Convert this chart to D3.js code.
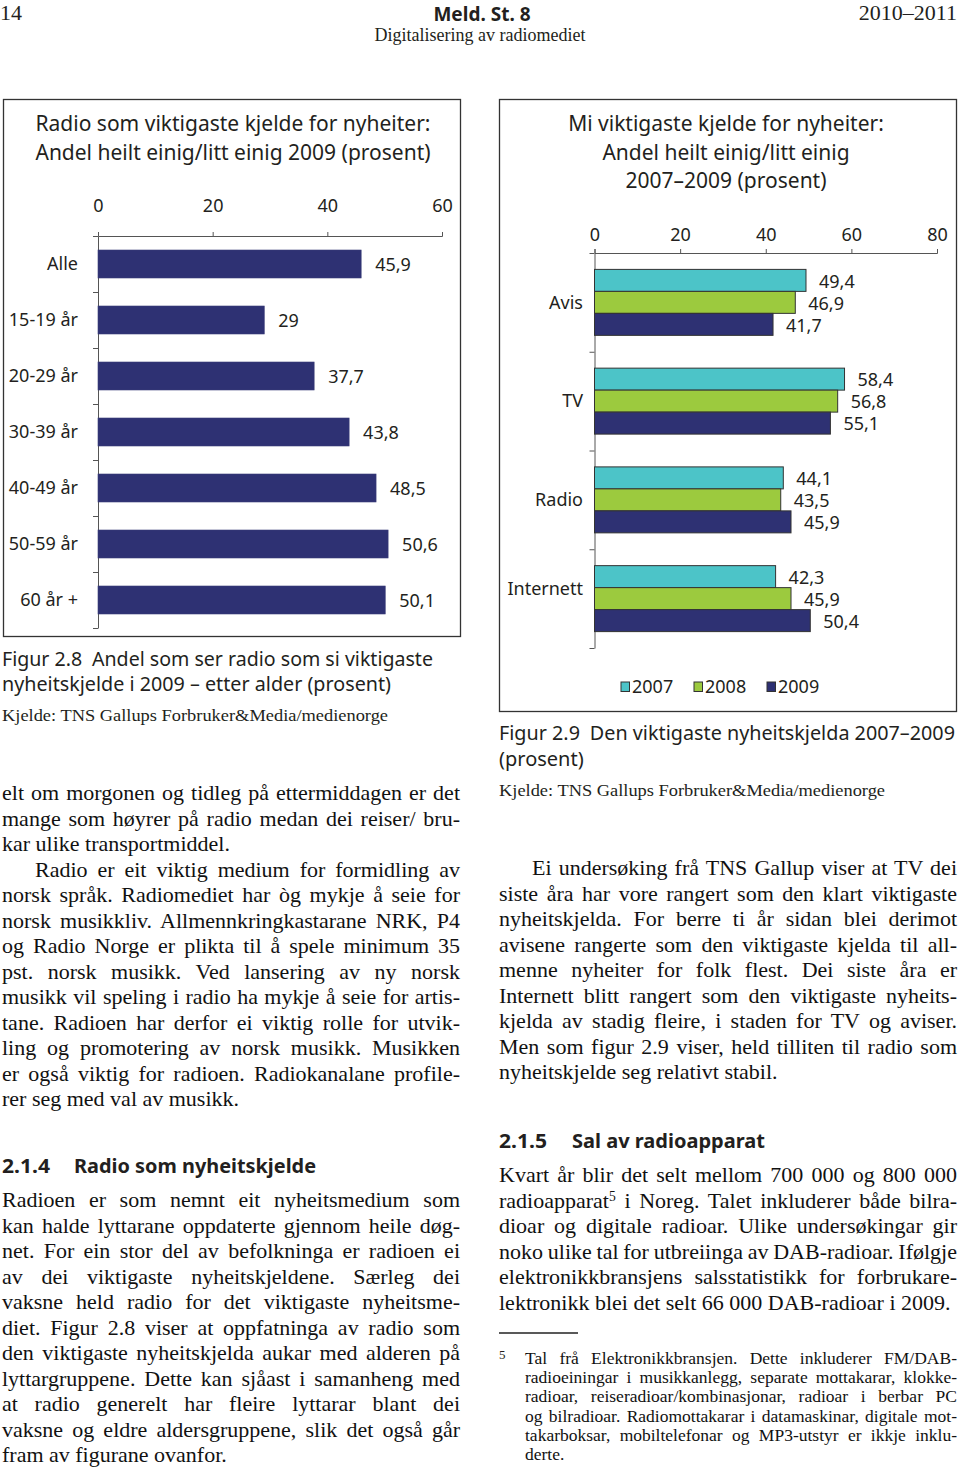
<!DOCTYPE html>
<html><head><meta charset="utf-8">
<script src="https://cdn.jsdelivr.net/npm/d3@7"></script>
<style>body{margin:0;background:#fff}svg{display:block}</style>
</head><body>
<script>
// ---------------- DATA ----------------
const ageCats = ["Alle","15-19 år","20-29 år","30-39 år","40-49 år","50-59 år","60 år +"];
const ageValues = [45.9, 29, 37.7, 43.8, 48.5, 50.6, 50.1];
const ageTicks = [0, 20, 40, 60];

const mediaCats = ["Avis","TV","Radio","Internett"];
const years = ["2007","2008","2009"];
const values2007 = [49.4, 58.4, 44.1, 42.3];
const values2008 = [46.9, 56.8, 43.5, 45.9];
const values2009 = [41.7, 55.1, 45.9, 50.4];
const mediaTicks = [0, 20, 40, 60, 80];

// ---------------- TEXT ----------------
const leftTitle = ["Radio som viktigaste kjelde for nyheiter:", "Andel heilt einig/litt einig 2009 (prosent)"];
const rightTitle = ["Mi viktigaste kjelde for nyheiter:", "Andel heilt einig/litt einig", "2007\u20132009 (prosent)"];

const paraA = ["elt om morgonen og tidleg på ettermiddagen er det",
  "mange som høyrer på radio medan dei reiser/ bru-",
  "kar ulike transportmiddel."];
const paraB = ["Radio er eit viktig medium for formidling av",
  "norsk språk. Radiomediet har òg mykje å seie for",
  "norsk musikkliv. Allmennkringkastarane NRK, P4",
  "og Radio Norge er plikta til å spele minimum 35",
  "pst. norsk musikk. Ved lansering av ny norsk",
  "musikk vil speling i radio ha mykje å seie for artis-",
  "tane. Radioen har derfor ei viktig rolle for utvik-",
  "ling og promotering av norsk musikk. Musikken",
  "er også viktig for radioen. Radiokanalane profile-",
  "rer seg med val av musikk."];
const paraC = ["Radioen er som nemnt eit nyheitsmedium som",
  "kan halde lyttarane oppdaterte gjennom heile døg-",
  "net. For ein stor del av befolkninga er radioen ei",
  "av dei viktigaste nyheitskjeldene. Særleg dei",
  "vaksne held radio for det viktigaste nyheitsme-",
  "diet. Figur 2.8 viser at oppfatninga av radio som",
  "den viktigaste nyheitskjelda aukar med alderen på",
  "lyttargruppene. Dette kan sjåast i samanheng med",
  "at radio generelt har fleire lyttarar blant dei",
  "vaksne og eldre aldersgruppene, slik det også går",
  "fram av figurane ovanfor."];
const paraD = ["Ei undersøking frå TNS Gallup viser at TV dei",
  "siste åra har vore rangert som den klart viktigaste",
  "nyheitskjelda. For berre ti år sidan blei derimot",
  "avisene rangerte som den viktigaste kjelda til all-",
  "menne nyheiter for folk flest. Dei siste åra er",
  "Internett blitt rangert som den viktigaste nyheits-",
  "kjelda av stadig fleire, i staden for TV og aviser.",
  "Men som figur 2.9 viser, held tilliten til radio som",
  "nyheitskjelde seg relativt stabil."];
const paraE = ["Kvart år blir det selt mellom 700 000 og 800 000",
  "radioapparat^5 i Noreg. Talet inkluderer både bilra-",
  "dioar og digitale radioar. Ulike undersøkingar gir",
  "noko ulike tal for utbreiinga av DAB-radioar. Ifølgje",
  "elektronikkbransjens salsstatistikk for forbrukare-",
  "lektronikk blei det selt 66 000 DAB-radioar i 2009."];
const footnote = ["Tal frå Elektronikkbransjen. Dette inkluderer FM/DAB-",
  "radioeiningar i musikkanlegg, separate mottakarar, klokke-",
  "radioar, reiseradioar/kombinasjonar, radioar i berbar PC",
  "og bilradioar. Radiomottakarar i datamaskinar, digitale mot-",
  "takarboksar, mobiltelefonar og MP3-utstyr er ikkje inklu-",
  "derte."];

// ---------------- SETUP ----------------
const SANS = "'Noto Sans','Open Sans',sans-serif";
const SERIF = "'Liberation Serif','Times New Roman',serif";
const INK = "#231f20";
const NAVY = "#2e3173", CYAN = "#4cc4c8", GREEN = "#9cca3e";
const yearColors = d3.scaleOrdinal().domain(years).range([CYAN, GREEN, NAVY]);

const svg = d3.select("body").append("svg").attr("width", 960).attr("height", 1469);

function txt(parent, str, x, y, o = {}) {
  const t = parent.append("text").attr("x", x).attr("y", y)
    .attr("font-family", o.family || SANS).attr("font-size", o.size || 18)
    .attr("font-weight", o.weight || "normal").attr("fill", o.fill || INK)
    .attr("text-anchor", o.anchor || "start").style("white-space", "pre");
  if (o.dy) t.attr("dy", o.dy);
  const parts = str.split(/\^(\d)/);
  parts.forEach((p, i) => {
    if (i % 2 === 1) t.append("tspan").attr("baseline-shift", "super").attr("font-size", (o.size || 18) * 0.62).text(p);
    else if (p.length) t.append("tspan").text(p);
  });
  if (o.fit) {
    const len = t.node().getComputedTextLength();
    if (Math.abs(len - o.fit) > 1) t.attr("textLength", o.fit).attr("lengthAdjust", "spacingAndGlyphs");
  }
  return t;
}
function justify(parent, str, x, y, w, o) {
  const t = txt(parent, str, x, y, o);
  const len = t.node().getComputedTextLength();
  const n = (str.match(/ /g) || []).length;
  if (n > 0) t.style("word-spacing", ((w - len) / n) + "px");
  return t;
}
function paragraph(lines, x, y0, w, step, o) {
  const g = svg.append("g");
  lines.forEach((l, i) => {
    const ind = (i === 0 && o.indent) ? o.indent : 0;
    const y = y0 + i * step;
    const last = i === lines.length - 1;
    if (last && !o.justifyLast) txt(g, l, x + ind, y, o);
    else justify(g, l, x + ind, y, w - ind, o);
  });
}

// ---------------- HEADER ----------------
txt(svg, "14", 0, 20, {family: SERIF, size: 22});
txt(svg, "Meld. St. 8", 482, 21, {weight: "bold", size: 19, anchor: "middle", fit: 98});
txt(svg, "2010\u20132011", 957, 20, {family: SERIF, size: 22, anchor: "end"});
txt(svg, "Digitalisering av radiomediet", 480, 41, {family: SERIF, size: 18, anchor: "middle"});

// ---------------- LEFT CHART ----------------
const gL = svg.append("g");
gL.append("rect").attr("x", 3.5).attr("y", 99.5).attr("width", 457).attr("height", 537)
  .attr("fill", "none").attr("stroke", "#333").attr("stroke-width", 1.3);
leftTitle.forEach((s, i) => txt(gL, s, 233, 131 + i * 28.5, {size: 21, anchor: "middle"}));

const xL = d3.scaleLinear().domain([0, 60]).range([98, 442]);
const yL = d3.scaleBand().domain(ageCats).range([236, 628]).paddingInner(0.5).paddingOuter(0.25);
const yLi = d3.scaleLinear().domain([0, ageCats.length]).range([236, 628]);

const axTopL = gL.append("g").attr("transform", "translate(0,236)")
  .call(d3.axisTop(xL).tickValues(ageTicks).tickSizeInner(4).tickSizeOuter(4).tickPadding(20));
const axLeftL = gL.append("g").attr("transform", "translate(98,0)")
  .call(d3.axisLeft(yLi).tickValues(d3.range(ageCats.length + 1)).tickFormat("").tickSize(5).tickSizeOuter(0));
[axTopL, axLeftL].forEach(a => {
  a.selectAll("path,line").attr("stroke", "#555").attr("stroke-width", 1);
  a.selectAll("text").attr("font-family", SANS).attr("font-size", 18).attr("fill", INK);
});

gL.selectAll("rect.bar").data(ageCats).join("rect").attr("class", "bar")
  .attr("x", xL(0)).attr("y", d => yL(d))
  .attr("width", (d, i) => xL(ageValues[i]) - xL(0)).attr("height", yL.bandwidth())
  .attr("fill", NAVY).attr("stroke", "#3a3d78").attr("stroke-width", 0.6);
gL.selectAll("text.cat").data(ageCats).join("text").attr("class", "cat")
  .attr("x", 78).attr("y", d => yL(d) + yL.bandwidth() / 2).attr("dy", "0.35em")
  .attr("text-anchor", "end").attr("font-family", SANS).attr("font-size", 18).attr("fill", INK).text(d => d);
gL.selectAll("text.val").data(ageCats).join("text").attr("class", "val")
  .attr("x", (d, i) => xL(ageValues[i]) + 14).attr("y", d => yL(d) + yL.bandwidth() / 2).attr("dy", "0.4em")
  .attr("font-family", SANS).attr("font-size", 18).attr("fill", INK)
  .text((d, i) => String(ageValues[i]).replace(".", ","));

// ---------------- RIGHT CHART ----------------
const gR = svg.append("g");
gR.append("rect").attr("x", 499.5).attr("y", 99.5).attr("width", 457).attr("height", 612)
  .attr("fill", "none").attr("stroke", "#333").attr("stroke-width", 1.3);
rightTitle.forEach((s, i) => txt(gR, s, 726, 131 + i * 28.5, {size: 21, anchor: "middle"}));

const xR = d3.scaleLinear().domain([0, 80]).range([594.5, 937]);
const yR = d3.scaleBand().domain(mediaCats).range([253, 648]).paddingInner(0.332).paddingOuter(0.166);
const yRi = d3.scaleLinear().domain([0, mediaCats.length]).range([253, 648]);
const yYear = d3.scaleBand().domain(years).range([0, yR.bandwidth()]);
const seriesByYear = {"2007": values2007, "2008": values2008, "2009": values2009};

const axTopR = gR.append("g").attr("transform", "translate(0,253)")
  .call(d3.axisTop(xR).tickValues(mediaTicks).tickSizeInner(4).tickSizeOuter(4).tickPadding(8));
const axLeftR = gR.append("g").attr("transform", "translate(594.5,0)")
  .call(d3.axisLeft(yRi).tickValues(d3.range(mediaCats.length + 1)).tickFormat("").tickSize(5).tickSizeOuter(0));
[axTopR, axLeftR].forEach(a => {
  a.selectAll("path,line").attr("stroke", "#555").attr("stroke-width", 1);
  a.selectAll("text").attr("font-family", SANS).attr("font-size", 18).attr("fill", INK);
});

const grp = gR.selectAll("g.grp").data(mediaCats).join("g").attr("class", "grp")
  .attr("transform", d => `translate(0,${yR(d)})`);
grp.selectAll("rect").data((d, i) => years.map(y => ({y, v: seriesByYear[y][i]}))).join("rect")
  .attr("x", xR(0)).attr("y", d => yYear(d.y)).attr("width", d => xR(d.v) - xR(0)).attr("height", yYear.bandwidth())
  .attr("fill", d => yearColors(d.y)).attr("stroke", "#333").attr("stroke-width", 1);
grp.selectAll("text.val").data((d, i) => years.map(y => ({y, v: seriesByYear[y][i]}))).join("text").attr("class", "val")
  .attr("x", d => xR(d.v) + 13).attr("y", d => yYear(d.y) + yYear.bandwidth() / 2).attr("dy", "0.4em")
  .attr("font-family", SANS).attr("font-size", 18).attr("fill", INK).text(d => String(d.v).replace(".", ","));
gR.selectAll("text.cat").data(mediaCats).join("text").attr("class", "cat")
  .attr("x", 583).attr("y", d => yR(d) + yR.bandwidth() / 2)
  .attr("dy", d => d === "Internett" ? "-0.2em" : "0.35em")
  .attr("text-anchor", "end").attr("font-family", SANS).attr("font-size", 18).attr("fill", INK).text(d => d);

const leg = gR.selectAll("g.leg").data(years).join("g").attr("class", "leg")
  .attr("transform", (d, i) => `translate(${621 + i * 73},682)`);
leg.append("rect").attr("width", 8.5).attr("height", 9.5).attr("fill", d => yearColors(d)).attr("stroke", "#333").attr("stroke-width", 1);
leg.append("text").attr("x", 11).attr("y", 11).attr("font-family", SANS).attr("font-size", 18).attr("fill", INK).text(d => d);

// ---------------- CAPTIONS ----------------
txt(svg, "Figur 2.8\u2002Andel som ser radio som si viktigaste", 2, 666, {size: 20, fit: 431});
txt(svg, "nyheitskjelde i 2009 \u2013 etter alder (prosent)", 2, 691, {size: 20, fit: 389});
txt(svg, "Kjelde: TNS Gallups Forbruker&Media/medienorge", 2, 721, {family: SERIF, size: 17, fit: 386});
txt(svg, "Figur 2.9\u2002Den viktigaste nyheitskjelda 2007\u20132009", 499, 740, {size: 20, fit: 456});
txt(svg, "(prosent)", 499, 766, {size: 20, fit: 84});
txt(svg, "Kjelde: TNS Gallups Forbruker&Media/medienorge", 499, 796, {family: SERIF, size: 17, fit: 386});

// ---------------- BODY ----------------
const body = {family: SERIF, size: 22, fill: "#111"};
paragraph(paraA, 2, 800, 458, 25.5, body);
paragraph(paraB, 2, 876.5, 458, 25.5, Object.assign({indent: 33}, body));
txt(svg, "2.1.4", 2, 1173, {weight: "bold", size: 20, fit: 48});
txt(svg, "Radio som nyheitskjelde", 74, 1173, {weight: "bold", size: 20, fit: 242});
paragraph(paraC, 2, 1207, 458, 25.5, body);

paragraph(paraD, 499, 875, 458, 25.5, Object.assign({indent: 33}, body));
txt(svg, "2.1.5", 499, 1148, {weight: "bold", size: 20, fit: 48});
txt(svg, "Sal av radioapparat", 572, 1148, {weight: "bold", size: 20, fit: 192});
paragraph(paraE, 499, 1182, 458, 25.5, body);

svg.append("line").attr("x1", 499).attr("x2", 578).attr("y1", 1333).attr("y2", 1333).attr("stroke", "#222").attr("stroke-width", 1.3);
txt(svg, "5", 499, 1359, {family: SERIF, size: 13});
paragraph(footnote, 525, 1364, 432, 19.2, {family: SERIF, size: 17.5, fill: "#111"});
</script>
</body></html>
